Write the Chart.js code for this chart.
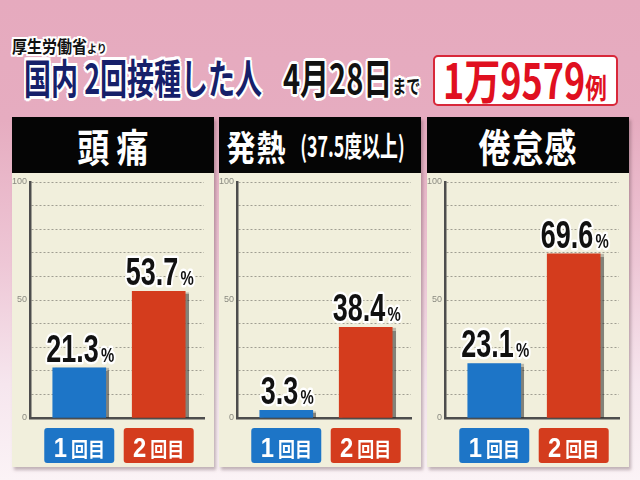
<!DOCTYPE html>
<html lang="ja">
<head>
<meta charset="utf-8">
<script src="https://cdn.jsdelivr.net/npm/chart.js@4"></script>
<style>
html,body{margin:0;padding:0}
body{width:640px;height:480px;overflow:hidden;position:relative;
  background:linear-gradient(180deg,#e6aabe 0%,#e6acc0 25%,#eec7d6 55%,#f6e6ee 80%,#fbf3f6 100%);
  font-family:"Noto Sans CJK JP",sans-serif;font-weight:700}
.t{position:absolute;white-space:nowrap;line-height:1;transform-origin:left top}
.ol{text-shadow:2px 0 #fff,-2px 0 #fff,0 2px #fff,0 -2px #fff,1.5px 1.5px #fff,-1.5px 1.5px #fff,1.5px -1.5px #fff,-1.5px -1.5px #fff}
.panel{position:absolute;top:117px;width:202px;height:350px;box-shadow:2px 3px 3px rgba(90,60,70,.35)}
.head{height:56px;background:#050505;color:#fff;display:flex;align-items:center;justify-content:center;white-space:nowrap}
.head span{display:inline-block;transform:scaleY(1.2);line-height:1}
.body{position:relative;height:294px;background:#f1efdc}
canvas{display:block}
</style>
</head>
<body>
<div class="t ol" style="left:12px;top:37px;font-size:15px;color:#111;transform:scaleY(1.15)">厚生労働省<span style="font-size:10px">より</span></div>
<div class="t ol" style="left:24px;top:56px;font-size:27px;color:#16206a;transform:scaleY(1.5)">国内 2回接種した人</div>
<div class="t ol" style="left:283px;top:56px;font-size:29px;color:#111;transform:scaleY(1.4)">4月28日<span style="font-size:14px">まで</span></div>
<div style="position:absolute;left:433px;top:55px;width:181px;height:47px;border:2px solid #d8283a;border-radius:5px;background:#fff"></div>
<div class="t" style="left:443px;top:55px;font-size:40px;color:#e01020;transform:scale(0.9,1.2)">1万9579<span style="font-size:24px">例</span></div>

<script>
const panelTitles = ['頭 痛', '発熱', '倦怠感'];
const panelNotes = ['', '(37.5度以上)', ''];
const doseLabels = ['1回目', '2回目'];
const firstDose = [21.3, 3.3, 23.1];
const secondDose = [53.7, 38.4, 69.6];
const yTicks = [0, 50, 100];

const doseColors = ['#1d75c7', '#d43c1d'];
const panelLeft = [12, 219, 427];

const barShadow = {
  id: 'barShadow',
  beforeDatasetsDraw(chart) {
    const c = chart.ctx;
    c.save();
    c.shadowColor = 'rgba(40,40,40,0.55)';
    c.shadowOffsetX = 3;
    c.shadowOffsetY = 1;
    c.shadowBlur = 1;
  },
  afterDatasetsDraw(chart) { chart.ctx.restore(); }
};

const valueLabels = {
  id: 'valueLabels',
  afterDatasetsDraw(chart) {
    const ctx = chart.ctx;
    const big = 'bold 38px "Liberation Sans", Arial, sans-serif';
    const small = 'bold 21px "Liberation Sans", Arial, sans-serif';
    chart.getDatasetMeta(0).data.forEach((bar, i) => {
      const num = chart.data.datasets[0].data[i].y.toFixed(1);
      ctx.save();
      ctx.font = big;
      const w1 = ctx.measureText(num).width;
      ctx.font = small;
      const w2 = ctx.measureText('%').width;
      const gap = 3;
      const x0 = -(w1 + gap + w2) / 2;
      ctx.translate(bar.x + 1, bar.y - 6);
      ctx.scale(0.71, 1);
      ctx.textBaseline = 'alphabetic';
      ctx.lineJoin = 'round';
      ctx.strokeStyle = '#fff';
      ctx.lineWidth = 5;
      ctx.fillStyle = '#111';
      ctx.font = big;
      ctx.strokeText(num, x0, 0);
      ctx.fillText(num, x0, 0);
      ctx.font = small;
      ctx.strokeText('%', x0 + w1 + gap, 0);
      ctx.fillText('%', x0 + w1 + gap, 0);
      ctx.restore();
    });
  }
};

const doseBoxes = {
  id: 'doseBoxes',
  afterDraw(chart) {
    const ctx = chart.ctx;
    const bottom = chart.chartArea.bottom;
    chart.getDatasetMeta(0).data.forEach((bar, i) => {
      const w = 70, h = 35, y = bottom + 10;
      ctx.save();
      ctx.fillStyle = doseColors[i];
      ctx.beginPath();
      ctx.roundRect(bar.x - w / 2, y, w, h, 3);
      ctx.fill();
      const digit = doseLabels[i].slice(0, 1);
      const rest = doseLabels[i].slice(1);
      ctx.font = 'bold 28px "Liberation Sans", Arial, sans-serif';
      const w1 = ctx.measureText(digit).width * 0.85;
      ctx.font = 'bold 17px "Noto Sans CJK JP", sans-serif';
      const w2 = ctx.measureText(rest).width;
      const gap = 4;
      const x = bar.x - (w1 + gap + w2) / 2;
      const base = y + h - 6;
      ctx.fillStyle = '#fff';
      ctx.textBaseline = 'alphabetic';
      ctx.save();
      ctx.translate(x, base);
      ctx.scale(0.85, 1);
      ctx.font = 'bold 28px "Liberation Sans", Arial, sans-serif';
      ctx.fillText(digit, 0, 0);
      ctx.restore();
      ctx.save();
      ctx.translate(x + w1 + gap, base);
      ctx.scale(1, 1.2);
      ctx.font = 'bold 17px "Noto Sans CJK JP", sans-serif';
      ctx.fillText(rest, 0, 0);
      ctx.restore();
      ctx.restore();
    });
  }
};

panelTitles.forEach((title, p) => {
  const panel = document.createElement('div');
  panel.className = 'panel';
  panel.style.left = panelLeft[p] + 'px';
  const head = document.createElement('div');
  head.className = 'head';
  let html = '<span style="font-size:' + (p === 1 ? 29 : 32) + 'px;letter-spacing:' + (p === 0 ? 0 : 1) + 'px">' + title + '</span>';
  if (panelNotes[p]) html += '<span style="font-size:21px;margin-left:4px;transform:scale(0.85,1.35)">' + panelNotes[p] + '</span>';
  head.innerHTML = html;
  const body = document.createElement('div');
  body.className = 'body';
  const canvas = document.createElement('canvas');
  canvas.width = 202;
  canvas.height = 294;
  body.appendChild(canvas);
  panel.appendChild(head);
  panel.appendChild(body);
  document.body.appendChild(panel);

  const values = [firstDose[p], secondDose[p]];
  new Chart(canvas, {
    type: 'bar',
    data: {
      datasets: [{
        data: values.map((v, i) => ({ x: i, y: v })),
        backgroundColor: doseColors,
        barThickness: 53
      }]
    },
    options: {
      responsive: false,
      animation: false,
      devicePixelRatio: 1,
      layout: { padding: { top: 9, right: 10, bottom: 49, left: 0 } },
      plugins: { legend: { display: false }, tooltip: { enabled: false } },
      scales: {
        x: {
          type: 'linear', offset: false, bounds: 'data', min: -0.62, max: 1.57,
          ticks: { display: false },
          grid: { display: false, drawTicks: false, offset: false },
          border: { color: '#4d4d4d', width: 2.5 },
          afterBuildTicks(s) { s.ticks = [{ value: -0.62 }, { value: 1.57 }]; }
        },
        y: {
          min: 0, max: 100,
          ticks: {
            stepSize: 10, autoSkip: false, padding: 3, color: '#8a8a80',
            font: { size: 9, family: '"Liberation Sans Narrow", "Liberation Sans", sans-serif' },
            callback: v => yTicks.includes(v) ? v : ''
          },
          grid: { color: '#a09e92', drawTicks: false },
          border: { dash: [2, 2], color: '#4d4d4d', width: 2.5 },
          afterFit(s) { s.width = 18; }
        }
      }
    },
    plugins: [barShadow, valueLabels, doseBoxes]
  });
});
</script>
</body>
</html>
